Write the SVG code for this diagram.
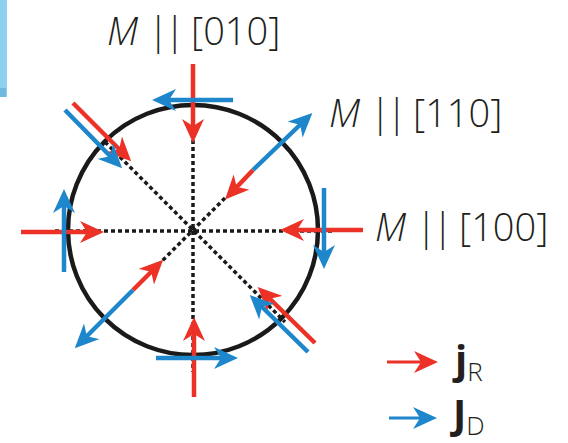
<svg xmlns="http://www.w3.org/2000/svg" width="568" height="443" viewBox="0 0 568 443">
<style>
.lbl{font-family:"Open Sans","Liberation Sans",sans-serif;font-size:38px;font-weight:300;fill:#231f20}
.it{font-style:italic}
.bar{letter-spacing:-4px}
.dot{stroke:#1a1a1a;stroke-width:3.5;stroke-dasharray:4 3;fill:none}
.r{stroke:#ec3226;stroke-width:4.5;fill:none;marker-end:url(#ar)}
.b{stroke:#1e87cc;stroke-width:4.5;fill:none;marker-end:url(#ab)}
.rb{stroke:#ec3226;stroke-width:3;fill:none;marker-end:url(#ar)}
.bb{stroke:#1e87cc;stroke-width:3;fill:none;marker-end:url(#ab)}
.leg{font-family:"Open Sans","Liberation Sans",sans-serif;font-size:40px;font-weight:700;fill:#231f20}
.sub{font-size:26px;font-weight:300}
</style>
<defs>
<marker id="ar" markerUnits="userSpaceOnUse" viewBox="0 0 24 22" markerWidth="24" markerHeight="22" refX="11" refY="11" orient="auto"><path d="M0,0 L24,11 L0,22 L7,11 Z" fill="#ec3226"/></marker>
<marker id="ab" markerUnits="userSpaceOnUse" viewBox="0 0 24 22" markerWidth="24" markerHeight="22" refX="11" refY="11" orient="auto"><path d="M0,0 L24,11 L0,22 L7,11 Z" fill="#1e87cc"/></marker>
</defs>
<rect x="0" y="0" width="7" height="97" fill="#8dd0ef"/>
<rect x="0" y="88" width="6" height="9" fill="#6fb8e0"/>
<g id="circle"><circle cx="193" cy="230" r="125" fill="none" stroke="#1a1a1a" stroke-width="4.5"/></g>
<g id="axes">
<line class="dot" x1="193" y1="140" x2="193" y2="372"/>
<line class="dot" x1="55" y1="231" x2="335" y2="231"/>
<line class="dot" x1="105" y1="142" x2="285" y2="322"/>
<line class="dot" x1="225" y1="198" x2="162" y2="261"/>
</g>
<g id="connectors">
<line class="r" x1="193" y1="64" x2="193" y2="130"/>
<line class="b" x1="233" y1="100" x2="165" y2="100"/>
<line class="r" x1="194" y1="397" x2="194" y2="330"/>
<line class="b" x1="156" y1="358" x2="225" y2="358"/>
<line class="r" x1="21" y1="232" x2="91" y2="232"/>
<line class="b" x1="64" y1="272" x2="64" y2="202"/>
<line class="r" x1="363" y1="230" x2="293" y2="230"/>
<line class="b" x1="324" y1="188" x2="324" y2="256"/>
<line class="r" x1="253" y1="170" x2="234" y2="190"/>
<line class="b" x1="253" y1="170" x2="303" y2="122"/>
<line class="r" x1="133" y1="290" x2="154" y2="269"/>
<line class="b" x1="133" y1="290" x2="84" y2="339"/>
<line class="r" x1="73" y1="103" x2="122" y2="152"/>
<line class="b" x1="65" y1="110" x2="113" y2="159"/>
<line class="r" x1="315" y1="343" x2="267" y2="296"/>
<line class="b" x1="308" y1="352" x2="259" y2="304"/>
</g>
<g id="label-010"><text class="lbl" x="107" y="45"><tspan class="it">M</tspan> <tspan class="bar">||</tspan> [010]</text></g>
<g id="label-110"><text class="lbl" x="329" y="127"><tspan class="it">M</tspan> <tspan class="bar">||</tspan> [110]</text></g>
<g id="label-100"><text class="lbl" x="375" y="241"><tspan class="it">M</tspan> <tspan class="bar">||</tspan> [100]</text></g>
<g id="legend">
<line class="rb" x1="387" y1="362" x2="425" y2="362"/>
<line class="bb" x1="389" y1="418" x2="424" y2="418"/>
<text class="leg" x="455" y="374">j<tspan class="sub" dy="7">R</tspan></text>
<text class="leg" x="453" y="428">J<tspan class="sub" dy="7">D</tspan></text>
</g>
</svg>
